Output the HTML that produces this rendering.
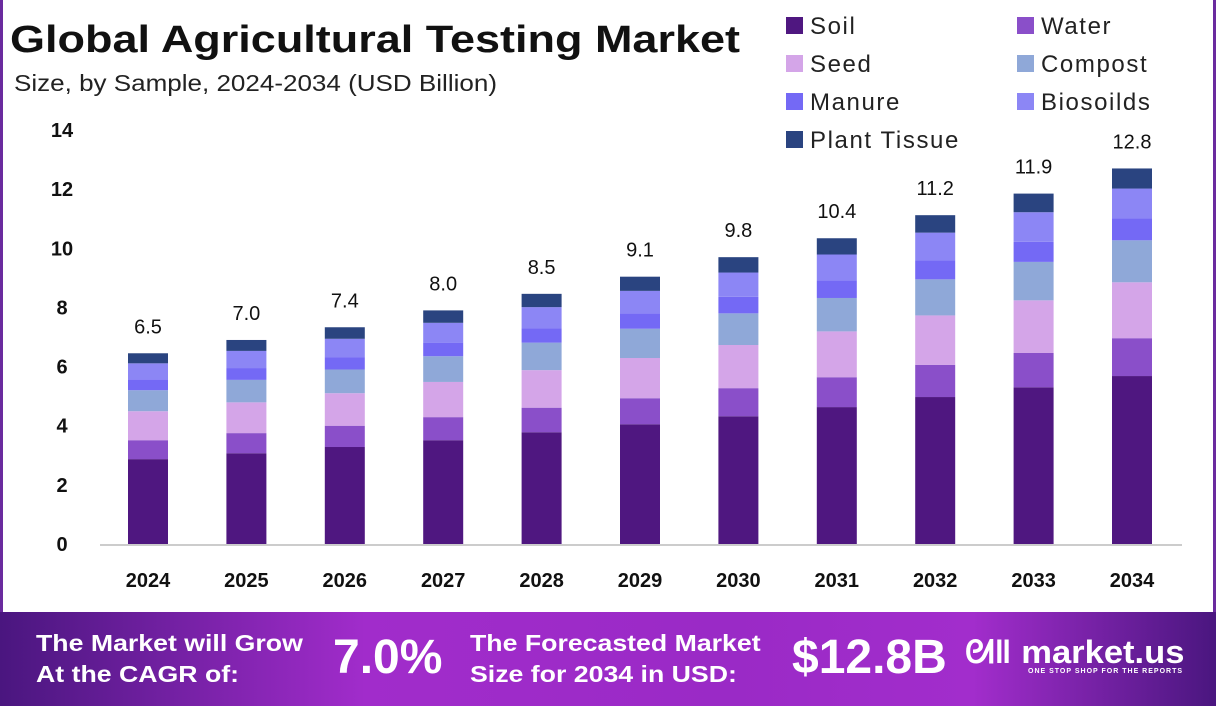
<!DOCTYPE html>
<html><head><meta charset="utf-8"><style>
body{margin:0;width:1216px;height:706px;overflow:hidden;background:#fff;font-family:"Liberation Sans",sans-serif;position:relative}
#frame{position:absolute;left:0;top:0;height:612px;border-left:3px solid #6a2a9e;border-right:3px solid #6a2a9e;box-sizing:border-box;width:1216px}
#banner{position:absolute;left:0;top:612px;width:1216px;height:94px;background:linear-gradient(90deg,#4a167f 0%,#a12ccb 30%,#9a2ac6 60%,#a22dcc 80%,#4a167f 100%);color:#fff;font-weight:bold}
.bt{position:absolute;font-size:23px;line-height:31px;transform-origin:0 0;transform:scaleX(1.16);white-space:nowrap}
</style></head><body>
<div id="frame"></div>
<svg width="1216" height="612" style="position:absolute;left:0;top:0" id="chart">
<text x="10" y="52" font-size="38" font-weight="bold" fill="#111" textLength="730" lengthAdjust="spacingAndGlyphs">Global Agricultural Testing Market</text>
<text x="14" y="91" font-size="23" fill="#222" textLength="483" lengthAdjust="spacingAndGlyphs">Size, by Sample, 2024-2034 (USD Billion)</text>
<line x1="100" y1="545" x2="1182" y2="545" stroke="#ccc" stroke-width="2"/>
<g id="bars"></g><g id="ticks"></g><g id="legend"></g>
</svg>
<div id="banner">
<div class="bt" style="left:36px;top:16px">The Market will Grow<br>At the CAGR of:</div>
<div style="position:absolute;left:333px;top:18px;font-size:48px">7.0%</div>
<div class="bt" style="left:470px;top:16px">The Forecasted Market<br>Size for 2034 in USD:</div>
<div style="position:absolute;left:792px;top:18px;font-size:48px">$12.8B</div>
<div style="position:absolute;left:965px;top:22px;font-size:32px;transform-origin:0 0;transform:scaleX(1.08);white-space:nowrap">ᘛǁ market.us</div>
<div style="position:absolute;left:1028px;top:56px;font-size:7px;letter-spacing:1px">ONE STOP SHOP FOR THE REPORTS</div>
</div>
<script>
const years=["2024","2025","2026","2027","2028","2029","2030","2031","2032","2033","2034"];
const totals=["6.5","7.0","7.4","8.0","8.5","9.1","9.8","10.4","11.2","11.9","12.8"];
const soil=[2.87,3.07,3.28,3.51,3.78,4.05,4.32,4.63,4.97,5.30,5.68];
const water=[0.64,0.68,0.72,0.78,0.83,0.88,0.95,1.01,1.09,1.16,1.28];
const seed=[0.98,1.04,1.10,1.19,1.27,1.36,1.46,1.55,1.67,1.78,1.89];
const compost=[0.71,0.76,0.80,0.87,0.93,0.99,1.07,1.13,1.22,1.30,1.42];
const manure=[0.37,0.40,0.42,0.46,0.49,0.52,0.56,0.60,0.64,0.68,0.74];
const biosoilds=[0.54,0.58,0.62,0.67,0.71,0.76,0.82,0.87,0.94,1.00,1.01];
const plantTissue=[0.34,0.37,0.39,0.42,0.45,0.48,0.52,0.55,0.59,0.63,0.68];
const yTicks=[0,2,4,6,8,10,12,14];
const seriesNames=["Soil","Water","Seed","Compost","Manure","Biosoilds","Plant Tissue"];
const series=[soil,water,seed,compost,manure,biosoilds,plantTissue];
const colors=["#4f1780","#8a4fc9","#d4a5e8","#8fa8d8","#7469f5","#8c86f5","#2a4480"];
const NS="http://www.w3.org/2000/svg";
const y=v=>544-v*29.57;
const x=i=>148+i*98.4;
function mk(t,a,p){const e=document.createElementNS(NS,t);for(const k in a)e.setAttribute(k,a[k]);p.appendChild(e);return e;}
const bars=document.getElementById('bars');
years.forEach((yr,i)=>{
  let acc=0;
  series.forEach((s,j)=>{
    const r=mk('rect',{x:x(i)-20,y:y(acc+s[i]),width:40,height:y(acc)-y(acc+s[i]),fill:colors[j]},bars);
    
    
    acc+=s[i];
  });
  const t=mk('text',{x:x(i),y:y(acc)-20,'font-size':20,'text-anchor':'middle',fill:'#111'},bars);t.textContent=totals[i];
  
  
  const xl=mk('text',{x:x(i),y:587,'font-size':20,'font-weight':'bold','text-anchor':'middle',fill:'#111'},bars);xl.textContent=yr;
  
  
});
const ticks=document.getElementById('ticks');
yTicks.forEach(v=>{const t=mk('text',{x:62,y:y(v)+7,'font-size':20,'font-weight':'bold','text-anchor':'middle',fill:'#111'},ticks);t.textContent=v;
  
  });
const lg=document.getElementById('legend');
seriesNames.forEach((n,j)=>{
  const col=j%2,row=Math.floor(j/2);
  const g=mk('g',{},lg);
  
  
  mk('rect',{x:786+col*231,y:17+row*38,width:17,height:17,fill:colors[j]},g);
  const t=mk('text',{x:810+col*231,y:34+row*38,'font-size':24,'letter-spacing':1.6,fill:'#222'},g);t.textContent=n;
});
</script>
</body></html>
